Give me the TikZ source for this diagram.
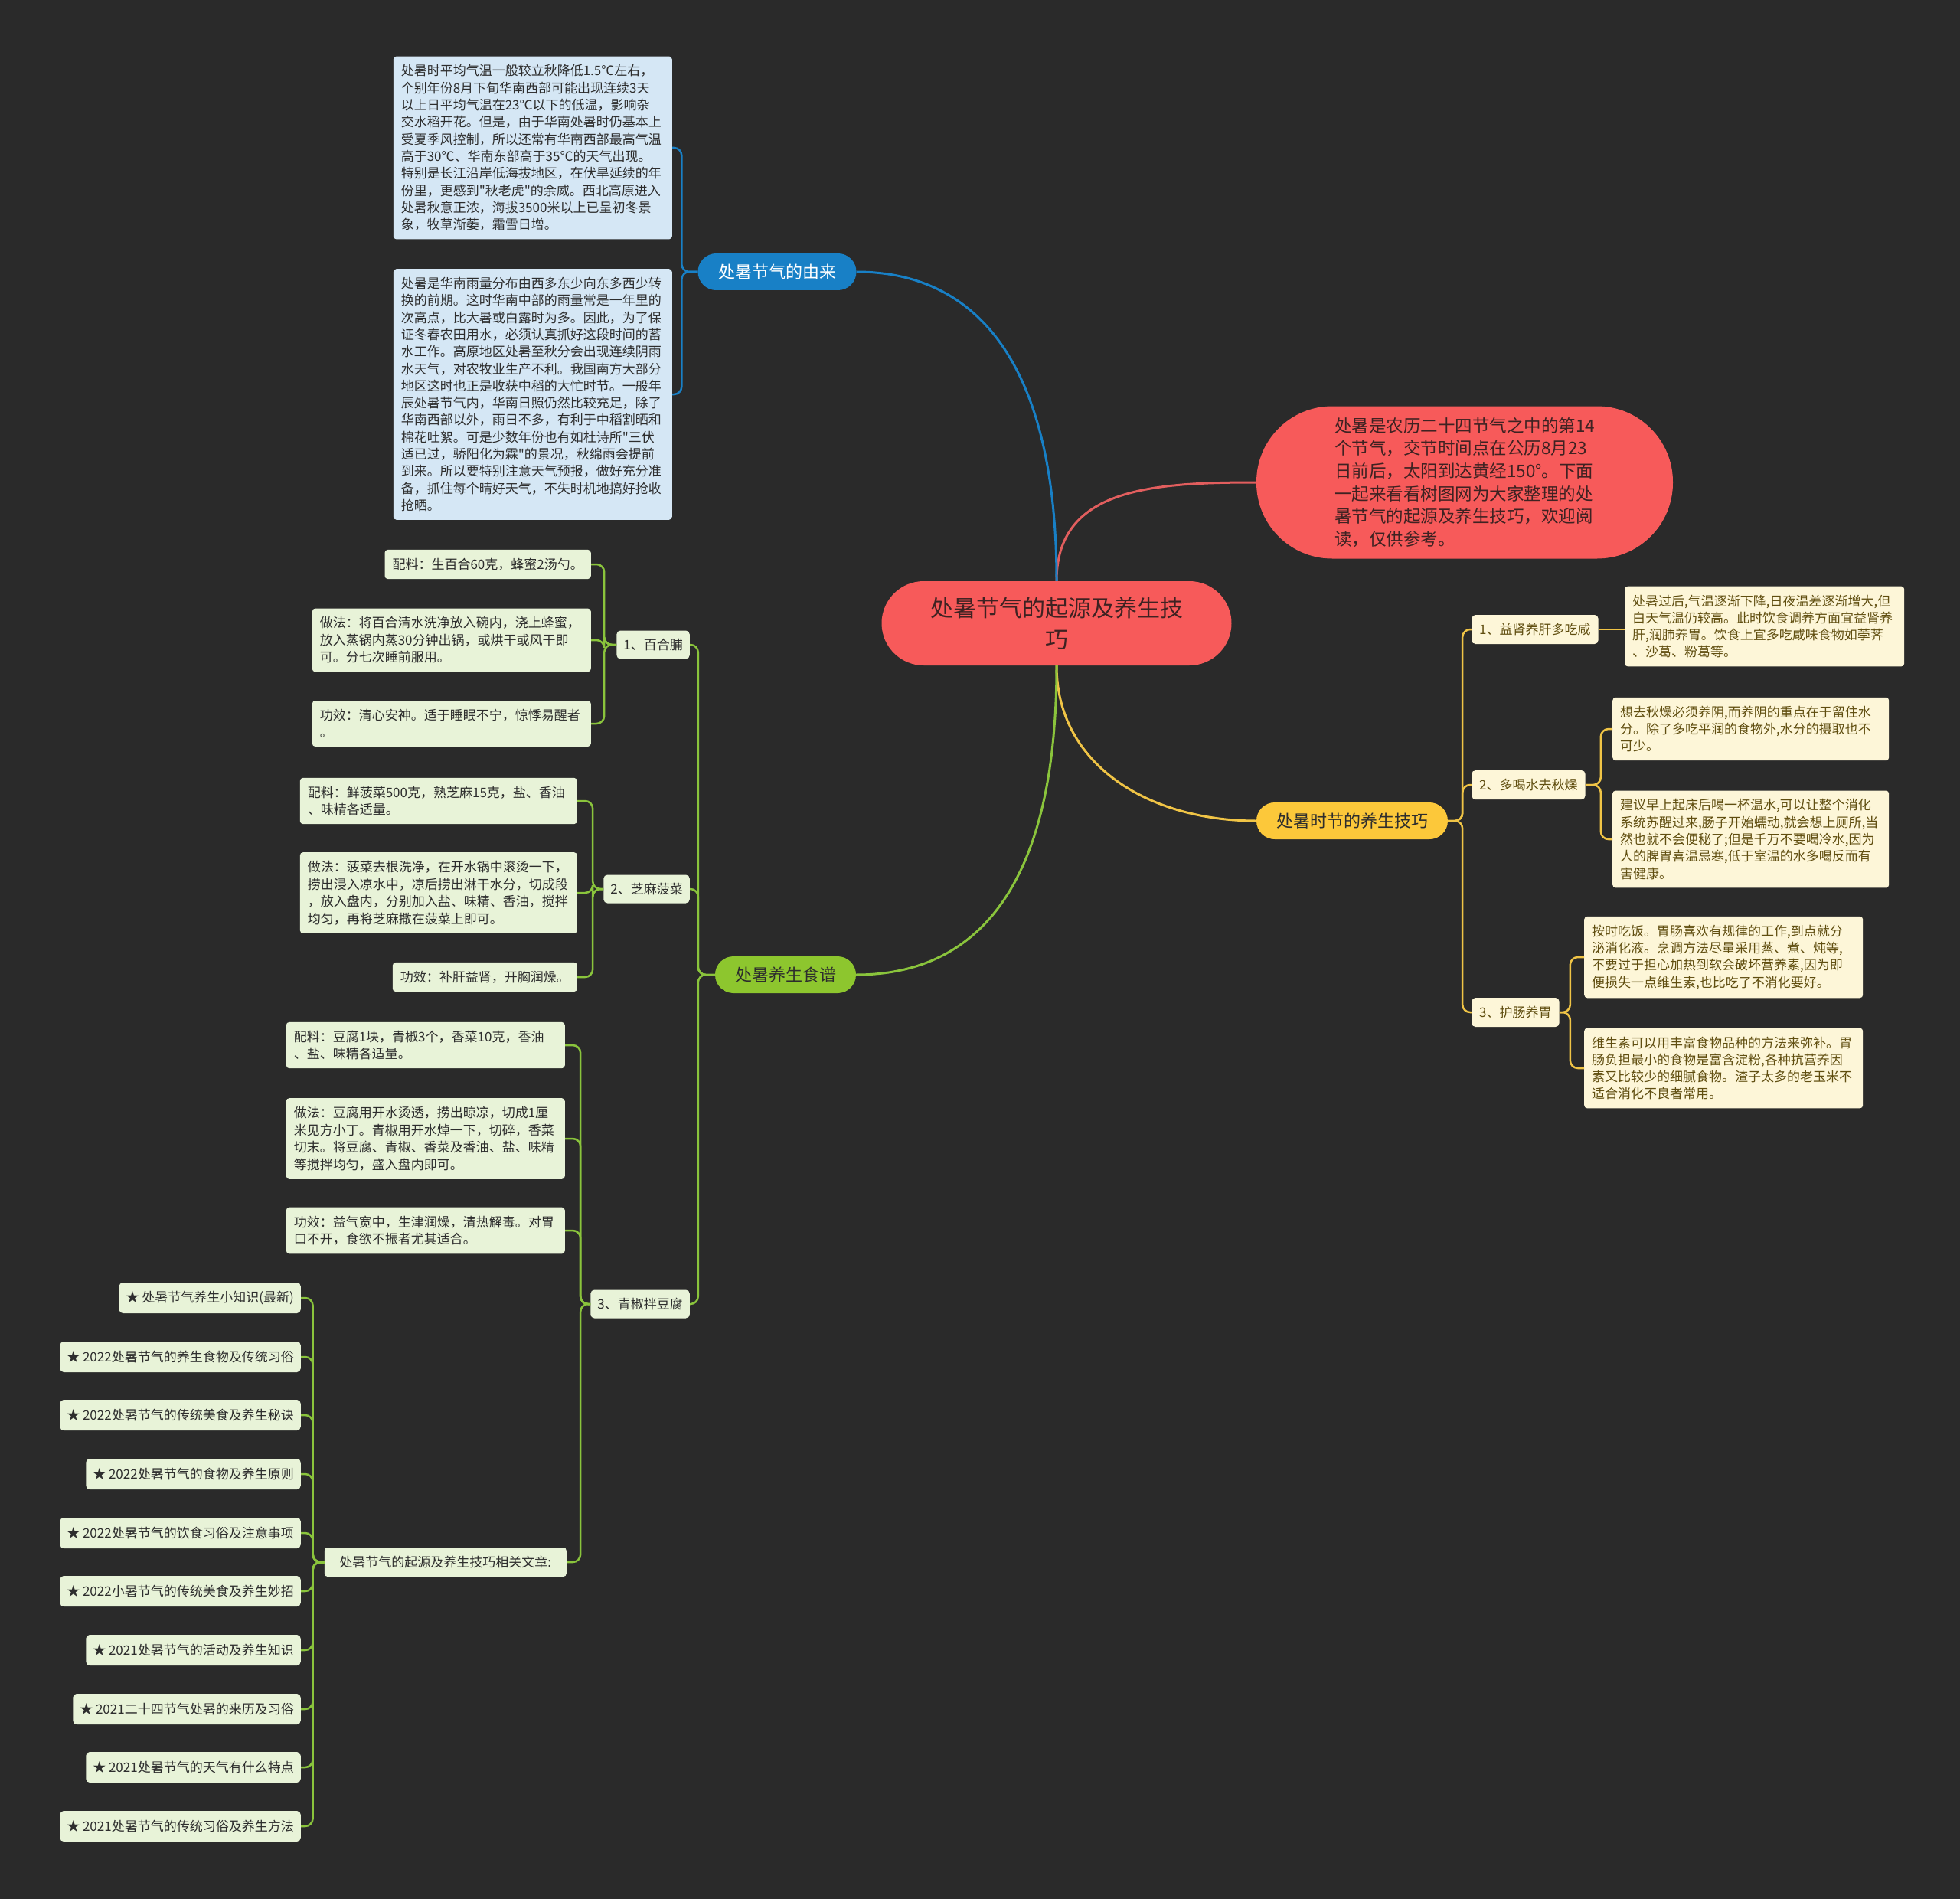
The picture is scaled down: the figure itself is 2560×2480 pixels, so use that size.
\documentclass[tikz,border=0pt]{standalone}
\usepackage{fontspec}
\newfontfamily\zhfont{Noto Sans CJK SC}
\usepackage{tikz}
\usetikzlibrary{positioning, calc}

\definecolor{bgdark}{RGB}{42,42,42}
\definecolor{rootred}{RGB}{247,90,90}
\definecolor{redline}{RGB}{226,94,94}
\definecolor{origblue}{RGB}{24,128,198}
\definecolor{boxblue}{RGB}{213,231,245}
\definecolor{recgreen}{RGB}{141,198,46}
\definecolor{greenline}{RGB}{138,196,60}
\definecolor{boxgreen}{RGB}{232,243,216}
\definecolor{tipgold}{RGB}{252,200,58}
\definecolor{goldline}{RGB}{240,196,70}
\definecolor{boxcream}{RGB}{253,246,216}
\definecolor{txtolive}{RGB}{96,78,16}
\definecolor{txtdark}{RGB}{45,45,45}
\definecolor{txtroot}{RGB}{62,34,34}

\tikzset{
  rootnode/.style={fill=rootred, rounded corners=55pt, minimum width=457pt, minimum height=110pt, align=center, text=txtroot, font=\zhfont\fontsize{30}{41}\selectfont},
  intronode/.style={fill=rootred, rounded corners=99pt, minimum width=544pt, minimum height=199pt, align=left, text=txtroot, font=\zhfont\fontsize{22.5}{29.7}\selectfont},
  branch/.style={rounded corners=24pt, minimum height=48pt, inner xsep=14pt, font=\zhfont\fontsize{22}{26}\selectfont},
  bluebox/.style={fill=boxblue, rounded corners=4pt, align=left, text=txtdark, text width=344pt, inner xsep=10pt, inner ysep=11pt, font=\zhfont\fontsize{17}{22.3}\selectfont},
  greenbox/.style={fill=boxgreen, rounded corners=4pt, align=left, text=txtdark, inner xsep=10pt, inner ysep=11pt, font=\zhfont\fontsize{17}{22.5}\selectfont},
  greensub/.style={fill=boxgreen, rounded corners=5pt, text=txtdark, minimum height=37pt, inner xsep=9pt, font=\zhfont\fontsize{17}{20}\selectfont},
  starbox/.style={fill=boxgreen, rounded corners=5pt, text=txtdark, minimum height=40pt, inner xsep=9pt, font=\zhfont\fontsize{17}{20}\selectfont},
  creambox/.style={fill=boxcream, rounded corners=4pt, align=left, text=txtolive, inner xsep=10pt, inner ysep=11pt, font=\zhfont\fontsize{17}{22.3}\selectfont},
  creamsub/.style={fill=boxcream, rounded corners=5pt, text=txtolive, minimum height=38pt, inner xsep=10pt, font=\zhfont\fontsize{17}{20}\selectfont},
  mainlink/.style={line width=3pt},
  bluelink/.style={draw=origblue, line width=2.5pt, rounded corners=10pt},
  greenlink/.style={draw=greenline, line width=2.5pt, rounded corners=10pt},
  goldlink/.style={draw=goldline, line width=2.5pt, rounded corners=10pt}
}

\begin{document}
\begin{tikzpicture}[x=1pt, y=-1pt]
    \useasboundingbox (0,0) rectangle (2560,2480);
    \fill[bgdark] (0,0) rectangle (2560,2480);

    % ==========================================
    % 1. Centro y nodos principales
    % ==========================================
    \node[rootnode] (root) at (1380,814) {处暑节气的起源及养生技\\巧};
    \node[intronode] (intro) at (1913,630) {处暑是农历二十四节气之中的第14\\个节气，交节时间点在公历8月23\\日前后，太阳到达黄经150°。下面\\一起来看看树图网为大家整理的处\\暑节气的起源及养生技巧，欢迎阅\\读，仅供参考。};

    \node[branch, fill=origblue, text=white, minimum width=207pt] (origin) at (1015,355) {处暑节气的由来};
    \node[branch, fill=recgreen, text=txtdark, minimum width=184pt] (recipe) at (1026,1273) {处暑养生食谱};
    \node[branch, fill=tipgold, text=txtdark, minimum width=250pt] (tips) at (1766,1072) {处暑时节的养生技巧};

    \draw[mainlink, redline] (root.north) .. controls +(0,-120) and +(-140,0) .. (intro.west);
    \draw[mainlink, origblue] (root.north) .. controls +(0,-280) and +(160,0) .. (origin.east);
    \draw[mainlink, goldline] (root.south) .. controls +(0,130) and +(-140,0) .. (tips.west);
    \draw[mainlink, greenline] (root.south) .. controls +(0,300) and +(150,0) .. (recipe.east);

    % ==========================================
    % 2. Rama azul: el origen
    % ==========================================
    \node[bluebox, anchor=east] (ob1) at (878,193) {处暑时平均气温一般较立秋降低1.5℃左右，\\个别年份8月下旬华南西部可能出现连续3天\\以上日平均气温在23℃以下的低温，影响杂\\交水稻开花。但是，由于华南处暑时仍基本上\\受夏季风控制，所以还常有华南西部最高气温\\高于30℃、华南东部高于35℃的天气出现。\\特别是长江沿岸低海拔地区，在伏旱延续的年\\份里，更感到"秋老虎"的余威。西北高原进入\\处暑秋意正浓，海拔3500米以上已呈初冬景\\象，牧草渐萎，霜雪日增。};
    \node[bluebox, anchor=east] (ob2) at (878,515) {处暑是华南雨量分布由西多东少向东多西少转\\换的前期。这时华南中部的雨量常是一年里的\\次高点，比大暑或白露时为多。因此，为了保\\证冬春农田用水，必须认真抓好这段时间的蓄\\水工作。高原地区处暑至秋分会出现连续阴雨\\水天气，对农牧业生产不利。我国南方大部分\\地区这时也正是收获中稻的大忙时节。一般年\\辰处暑节气内，华南日照仍然比较充足，除了\\华南西部以外，雨日不多，有利于中稻割晒和\\棉花吐絮。可是少数年份也有如杜诗所"三伏\\适已过，骄阳化为霖"的景况，秋绵雨会提前\\到来。所以要特别注意天气预报，做好充分准\\备，抓住每个晴好天气，不失时机地搞好抢收\\抢晒。};
    \draw[bluelink] (origin.west) -- ++(-21,0) |- (ob1.east);
    \draw[bluelink] (origin.west) -- ++(-21,0) |- (ob2.east);

    % ==========================================
    % 3. Rama amarilla: consejos
    % ==========================================
    \node[creamsub, anchor=west] (ys1) at (1922,822) {1、益肾养肝多吃咸};
    \node[creamsub, anchor=west] (ys2) at (1922,1025) {2、多喝水去秋燥};
    \node[creamsub, anchor=west] (ys3) at (1922,1322) {3、护肠养胃};
    \foreach \k in {1,2,3}
        \draw[goldlink] (tips.east) -- ++(19,0) |- (ys\k.west);

    \node[creambox, text width=345pt, anchor=west] (yl1) at (2122,818) {处暑过后,气温逐渐下降,日夜温差逐渐增大,但\\白天气温仍较高。此时饮食调养方面宜益肾养\\肝,润肺养胃。饮食上宜多吃咸味食物如荸荠\\、沙葛、粉葛等。};
    \node[creambox, text width=341pt, anchor=west] (yl2a) at (2106,952) {想去秋燥必须养阴,而养阴的重点在于留住水\\分。除了多吃平润的食物外,水分的摄取也不\\可少。};
    \node[creambox, text width=341pt, anchor=west] (yl2b) at (2106,1096) {建议早上起床后喝一杯温水,可以让整个消化\\系统苏醒过来,肠子开始蠕动,就会想上厕所,当\\然也就不会便秘了;但是千万不要喝冷水,因为\\人的脾胃喜温忌寒,低于室温的水多喝反而有\\害健康。};
    \node[creambox, text width=344pt, anchor=west] (yl3a) at (2069,1250) {按时吃饭。胃肠喜欢有规律的工作,到点就分\\泌消化液。烹调方法尽量采用蒸、煮、炖等,\\不要过于担心加热到软会破坏营养素,因为即\\便损失一点维生素,也比吃了不消化要好。};
    \node[creambox, text width=344pt, anchor=west] (yl3b) at (2069,1395) {维生素可以用丰富食物品种的方法来弥补。胃\\肠负担最小的食物是富含淀粉,各种抗营养因\\素又比较少的细腻食物。渣子太多的老玉米不\\适合消化不良者常用。};
    \draw[goldlink] (ys1.east) -- (yl1.west |- ys1.east);
    \draw[goldlink] (ys2.east) -- ++(20,0) |- (yl2a.west);
    \draw[goldlink] (ys2.east) -- ++(20,0) |- (yl2b.west);
    \draw[goldlink] (ys3.east) -- ++(14,0) |- (yl3a.west);
    \draw[goldlink] (ys3.east) -- ++(14,0) |- (yl3b.west);

    % ==========================================
    % 4. Rama verde: recetas
    % ==========================================
    \node[greensub, anchor=east] (gs1) at (901,842) {1、百合脯};
    \node[greensub, anchor=east] (gs2) at (901,1161) {2、芝麻菠菜};
    \node[greensub, anchor=east] (gs3) at (901,1703) {3、青椒拌豆腐};
    \foreach \k in {1,2,3}
        \draw[greenlink] (recipe.west) -- ++(-22,0) |- (gs\k.east);

    % Receta 1
    \node[greenbox, anchor=east] (g1a) at (772,737) {配料：生百合60克，蜂蜜2汤勺。};
    \node[greenbox, text width=344pt, anchor=east] (g1b) at (772,836) {做法：将百合清水洗净放入碗内，浇上蜂蜜，\\放入蒸锅内蒸30分钟出锅，或烘干或风干即\\可。分七次睡前服用。};
    \node[greenbox, text width=344pt, anchor=east] (g1c) at (772,945) {功效：清心安神。适于睡眠不宁，惊悸易醒者\\。};
    \foreach \n in {g1a,g1b,g1c}
        \draw[greenlink] (gs1.west) -- ++(-16,0) |- (\n.east);

    % Receta 2
    \node[greenbox, text width=342pt, anchor=east] (g2a) at (754,1046) {配料：鲜菠菜500克，熟芝麻15克，盐、香油\\、味精各适量。};
    \node[greenbox, text width=342pt, anchor=east] (g2b) at (754,1166) {做法：菠菜去根洗净，在开水锅中滚烫一下，\\捞出浸入凉水中，凉后捞出淋干水分，切成段\\，放入盘内，分别加入盐、味精、香油，搅拌\\均匀，再将芝麻撒在菠菜上即可。};
    \node[greenbox, anchor=east] (g2c) at (754,1276) {功效：补肝益肾，开胸润燥。};
    \foreach \n in {g2a,g2b,g2c}
        \draw[greenlink] (gs2.west) -- ++(-14,0) |- (\n.east);

    % Receta 3
    \node[greenbox, text width=344pt, anchor=east] (g3a) at (738,1365) {配料：豆腐1块，青椒3个，香菜10克，香油\\、盐、味精各适量。};
    \node[greenbox, text width=344pt, anchor=east] (g3b) at (738,1487) {做法：豆腐用开水烫透，捞出晾凉，切成1厘\\米见方小丁。青椒用开水焯一下，切碎，香菜\\切末。将豆腐、青椒、香菜及香油、盐、味精\\等搅拌均匀，盛入盘内即可。};
    \node[greenbox, text width=344pt, anchor=east] (g3c) at (738,1607) {功效：益气宽中，生津润燥，清热解毒。对胃\\口不开，食欲不振者尤其适合。};
    \node[greenbox, minimum width=316pt, anchor=east] (rel) at (740,2040) {处暑节气的起源及养生技巧相关文章:};
    \foreach \n in {g3a,g3b,g3c,rel}
        \draw[greenlink] (gs3.west) -- ++(-13,0) |- (\n.east);

    % Articulos relacionados
    \foreach \k/\yy/\txt in {
        1/1695/★ 处暑节气养生小知识(最新),
        2/1772/★ 2022处暑节气的养生食物及传统习俗,
        3/1848/★ 2022处暑节气的传统美食及养生秘诀,
        4/1925/★ 2022处暑节气的食物及养生原则,
        5/2002/★ 2022处暑节气的饮食习俗及注意事项,
        6/2078/★ 2022小暑节气的传统美食及养生妙招,
        7/2155/★ 2021处暑节气的活动及养生知识,
        8/2232/★ 2021二十四节气处暑的来历及习俗,
        9/2308/★ 2021处暑节气的天气有什么特点,
        10/2385/★ 2021处暑节气的传统习俗及养生方法
    } {
        \node[starbox, anchor=east] (st\k) at (393,\yy) {\txt};
        \draw[greenlink] (rel.west) -- ++(-15,0) |- (st\k.east);
    }
\end{tikzpicture}
\end{document}
